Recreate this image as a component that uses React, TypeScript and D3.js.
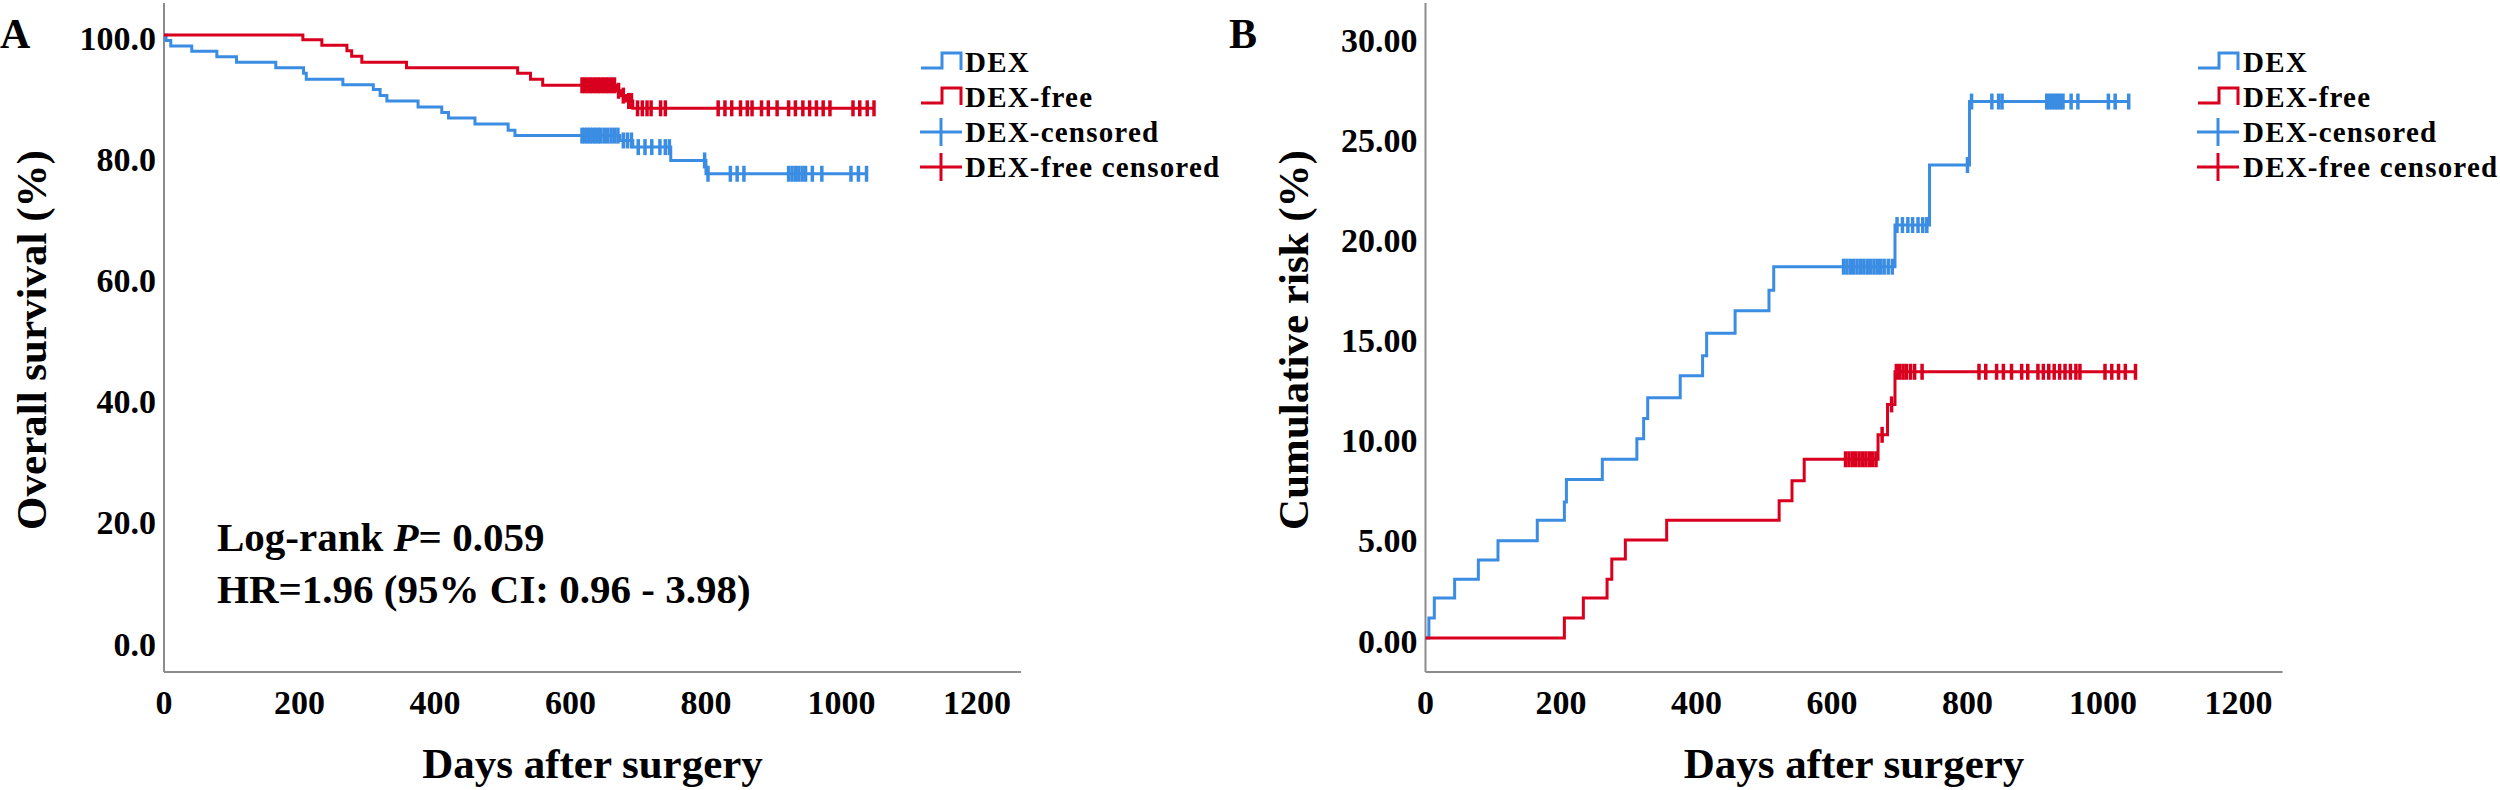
import React from 'react';
import * as d3 from 'd3';

// ---------- data ----------
const xTicks = [0, 200, 400, 600, 800, 1000, 1200];
const aYTicks = [0, 20, 40, 60, 80, 100];
const bYTicks = [0, 5, 10, 15, 20, 25, 30];
const legendLabels = ['DEX', 'DEX-free', 'DEX-censored', 'DEX-free censored'];

// Panel A: overall survival (%)
const aDexTimes = [0, 3, 10, 41, 78, 107, 165, 206, 210, 264, 309, 319, 329, 375, 410, 420, 459, 508, 518, 673, 692, 748, 800];
const aDexSurv = [100, 99.1, 98.2, 97.3, 96.4, 95.5, 94.6, 93.7, 92.7, 91.8, 91.0, 90.0, 89.1, 88.1, 87.2, 86.3, 85.3, 84.3, 83.4, 82.6, 81.5, 79.3, 77.1];
const aDexCensor = [617, 621, 625, 629, 633, 637, 641, 645, 650, 655, 660, 665, 670, 678, 684, 690, 700, 710, 720, 732, 740, 746, 798, 803, 836, 846, 856, 922, 927, 932, 937, 942, 947, 957, 971, 1014, 1025, 1037];

const aFreeTimes = [0, 205, 233, 270, 277, 292, 358, 522, 541, 559, 668, 675, 682, 692];
const aFreeSurv = [100, 99.2, 98.3, 97.4, 96.5, 95.5, 94.6, 93.7, 92.7, 91.7, 90.8, 90.0, 89.1, 87.9];
const aFreeCensor = [617, 621, 625, 629, 633, 637, 641, 645, 649, 653, 657, 661, 665, 671, 678, 686, 690, 699, 706, 713, 719, 733, 740, 818, 828, 838, 851, 861, 868, 882, 892, 905, 922, 932, 943, 953, 963, 973, 983, 1017, 1027, 1038, 1048];

// Panel B: cumulative risk (%)
const bDexTimes = [0, 5, 13, 43, 78, 107, 165, 205, 208, 261, 312, 322, 328, 376, 409, 415, 457, 507, 514, 693, 744, 803];
const bDexRisk = [0, 1.0, 2.0, 2.94, 3.9, 4.86, 5.88, 6.79, 7.92, 8.93, 9.95, 10.96, 12.0, 13.1, 14.1, 15.23, 16.35, 17.37, 18.55, 20.63, 23.63, 26.8];
const bDexCensor = [617, 622, 627, 632, 637, 642, 647, 652, 657, 662, 667, 672, 677, 683, 689, 696, 704, 712, 719, 727, 734, 740, 800, 806, 836, 846, 851, 917, 921, 925, 929, 933, 937, 941, 953, 963, 1008, 1018, 1038];

const bFreeTimes = [0, 205, 233, 268, 275, 295, 356, 522, 541, 559, 668, 682, 693];
const bFreeRisk = [0, 1.0, 2.0, 2.93, 3.95, 4.9, 5.88, 6.86, 7.85, 8.93, 10.15, 11.67, 13.3];
const bFreeCensor = [620, 625, 630, 635, 640, 645, 650, 655, 660, 665, 674, 688, 695, 700, 705, 710, 716, 722, 733, 817, 827, 843, 853, 865, 880, 889, 904, 912, 920, 928, 936, 944, 952, 960, 966, 1003, 1013, 1023, 1033, 1048];

// ---------- styles ----------
const BLUE = '#3a8de2';
const RED = '#d9001f';
const AXIS = '#8c8c8c';
const FONT = '"Liberation Serif", "Times New Roman", Times, serif';

type Series = { times: number[]; values: number[]; censor: number[]; color: string };

function valueAt(s: Series, t: number) {
  let v = s.values[0];
  for (let i = 0; i < s.times.length; i++) if (s.times[i] <= t) v = s.values[i];
  return v;
}

type PanelProps = {
  ox: number;
  letter: string;
  letterX: number;
  yTitle: string;
  yDomain: [number, number];
  yRange: [number, number];
  yTicks: number[];
  fmt: (v: number) => string;
  series: Series[];
  legendSymX: number;
  legendTextX: number;
  info?: boolean;
};

function Panel(p: PanelProps) {
  const axisLen = 857;
  const axisY = 672;
  const x = d3.scaleLinear().domain([0, 1265]).range([p.ox, p.ox + axisLen]);
  const y = d3.scaleLinear().domain(p.yDomain).range(p.yRange);
  const line = d3
    .line<[number, number]>()
    .x((d) => x(d[0]))
    .y((d) => y(d[1]))
    .curve(d3.curveStepAfter);

  const legendRows = [63, 98, 133, 168];
  const legendColors = [BLUE, RED, BLUE, RED];

  return (
    <g fontFamily={FONT} fontWeight="bold" fill="#000">
      {/* panel letter */}
      <text x={p.letterX} y={48} fontSize={42}>{p.letter}</text>
      {/* axes */}
      <line x1={p.ox} x2={p.ox} y1={3} y2={axisY} stroke={AXIS} strokeWidth={2} />
      <line x1={p.ox} x2={p.ox + axisLen} y1={axisY} y2={axisY} stroke={AXIS} strokeWidth={2} />
      {/* y ticks */}
      {p.yTicks.map((t) => (
        <text key={'y' + t} x={p.ox - 8} y={y(t) + 14.5} fontSize={34} textAnchor="end">
          {p.fmt(t)}
        </text>
      ))}
      {/* x ticks */}
      {xTicks.map((t) => (
        <text key={'x' + t} x={x(t)} y={714} fontSize={34} textAnchor="middle">
          {t}
        </text>
      ))}
      {/* axis titles */}
      <text x={p.ox + axisLen / 2} y={778} fontSize={43} textAnchor="middle">
        Days after surgery
      </text>
      <text
        transform={`translate(${p.ox - 118},${340}) rotate(-90)`}
        fontSize={43}
        textAnchor="middle"
      >
        {p.yTitle}
      </text>
      {/* curves */}
      {p.series.map((s, i) => {
        const last = Math.max(s.times[s.times.length - 1], d3.max(s.censor) ?? 0);
        const pts: [number, number][] = s.times.map((t, j) => [t, s.values[j]] as [number, number]);
        pts.push([last, s.values[s.values.length - 1]]);
        return (
          <g key={'s' + i}>
            <path d={line(pts) ?? ''} fill="none" stroke={s.color} strokeWidth={3} />
            {s.censor.map((c, k) => {
              const cx = x(c);
              const cy = y(valueAt(s, c));
              return (
                <line key={k} x1={cx} x2={cx} y1={cy - 8} y2={cy + 8} stroke={s.color} strokeWidth={3.5} />
              );
            })}
          </g>
        );
      })}
      {/* legend */}
      {legendLabels.map((lab, i) => {
        const cy = legendRows[i];
        const sx = p.legendSymX;
        const col = legendColors[i];
        const sym =
          i < 2 ? (
            <path
              d={`M${sx},${cy + 5}H${sx + 21}V${cy - 10}H${sx + 40}V${cy + 7}`}
              fill="none"
              stroke={col}
              strokeWidth={3}
            />
          ) : (
            <g stroke={col} strokeWidth={3}>
              <line x1={sx - 1} x2={sx + 41} y1={cy - 1} y2={cy - 1} />
              <line x1={sx + 20} x2={sx + 20} y1={cy - 15} y2={cy + 13} />
            </g>
          );
        return (
          <g key={'l' + i}>
            {sym}
            <text x={p.legendTextX} y={cy + 9} fontSize={29} letterSpacing={1.2}>
              {lab}
            </text>
          </g>
        );
      })}
      {p.info && (
        <g fontSize={41}>
          <text x={217} y={551}>
            Log-rank <tspan fontStyle="italic">P</tspan>= 0.059
          </text>
          <text x={217} y={603}>HR=1.96 (95% CI: 0.96 - 3.98)</text>
        </g>
      )}
    </g>
  );
}

export default function App() {
  const aSeries: Series[] = [
    { times: aDexTimes, values: aDexSurv, censor: aDexCensor, color: BLUE },
    { times: aFreeTimes, values: aFreeSurv, censor: aFreeCensor, color: RED },
  ];
  const bSeries: Series[] = [
    { times: bDexTimes, values: bDexRisk, censor: bDexCensor, color: BLUE },
    { times: bFreeTimes, values: bFreeRisk, censor: bFreeCensor, color: RED },
  ];
  return (
    <svg
      width={2500}
      height={790}
      style={{ position: 'absolute', left: 0, top: 0, background: '#fff' }}
    >
      <rect width={2500} height={790} fill="#fff" />
      <Panel
        ox={164}
        letter="A"
        letterX={0}
        yTitle="Overall survival (%)"
        yDomain={[0, 100]}
        yRange={[641, 35]}
        yTicks={aYTicks}
        fmt={(v) => v.toFixed(1)}
        series={aSeries}
        legendSymX={921}
        legendTextX={965}
        info
      />
      <Panel
        ox={1425.5}
        letter="B"
        letterX={1229}
        yTitle="Cumulative risk (%)"
        yDomain={[0, 30]}
        yRange={[638, 37.5]}
        yTicks={bYTicks}
        fmt={(v) => v.toFixed(2)}
        series={bSeries}
        legendSymX={2198}
        legendTextX={2243}
      />
    </svg>
  );
}
